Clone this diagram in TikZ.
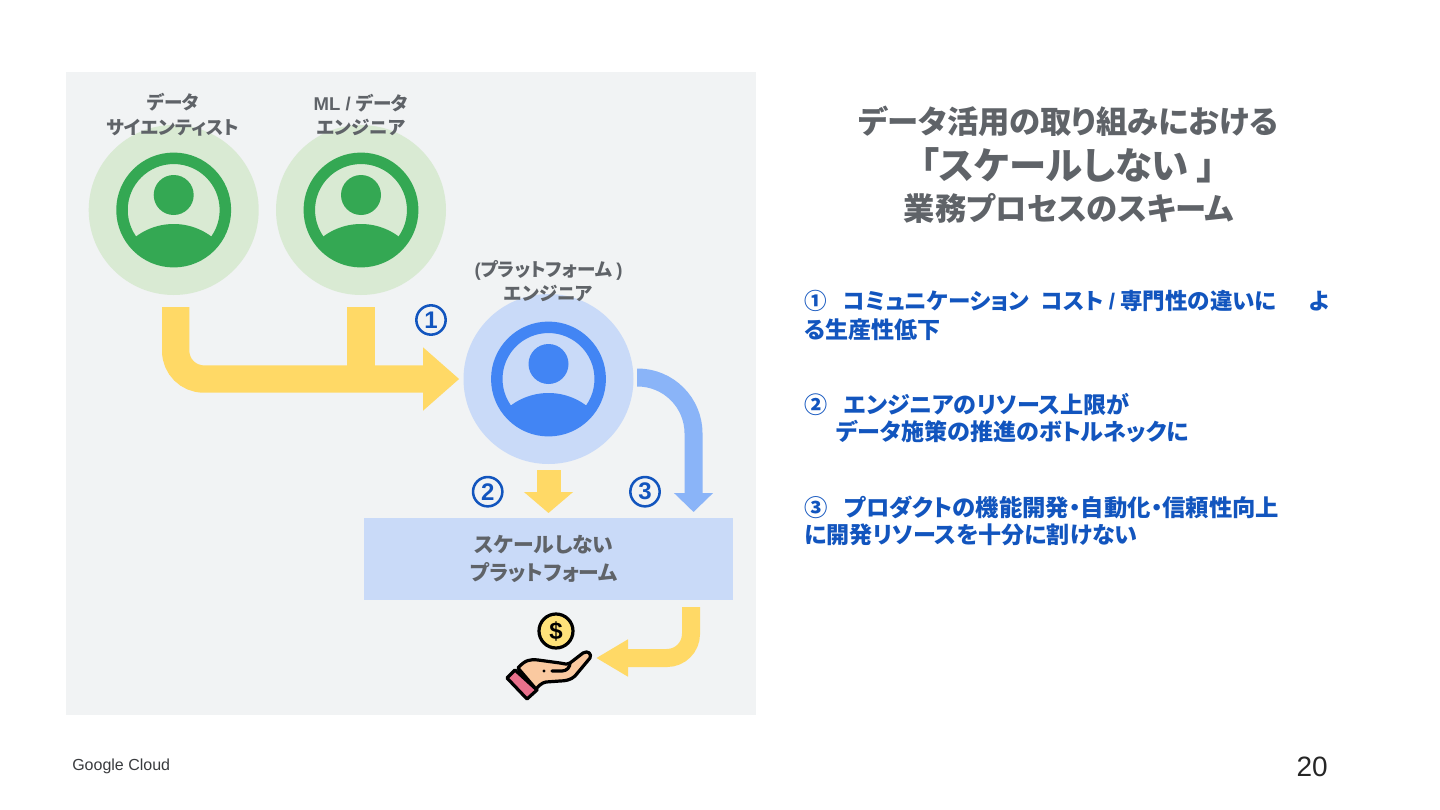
\documentclass[tikz,border=0pt]{standalone}
\usepackage{fontspec}
\setmainfont{Noto Sans CJK JP}[RawFeature={+palt}]
\newfontfamily\latfont{Liberation Sans}
\usetikzlibrary{arrows.meta,calc}

\definecolor{panelgray}{HTML}{F1F3F4}
\definecolor{textgray}{HTML}{5F6368}
\definecolor{numblue}{HTML}{1255BE}
\definecolor{paleGreen}{HTML}{D9EAD3}
\definecolor{iconGreen}{HTML}{34A853}
\definecolor{paleBlue}{HTML}{C9DAF8}
\definecolor{iconBlue}{HTML}{4285F4}
\definecolor{flowYellow}{HTML}{FFD966}
\definecolor{flowBlue}{HTML}{8AB4F8}
\definecolor{coinYellow}{HTML}{FFE27A}
\definecolor{handSkin}{HTML}{FAC9A0}
\definecolor{handSleeve}{HTML}{E8708C}

\begin{document}
\begin{tikzpicture}[
    x=0.75pt,y=-0.75pt,
    yarrow/.style={line width=20.5pt,draw=flowYellow,-{Triangle[length=27pt,width=45.5pt]}},
    role/.style={font=\bfseries\fontsize{13.9}{18.4}\selectfont,text=textgray,align=center,inner sep=0pt},
    title/.style={font=\bfseries\fontsize{23.5}{27}\selectfont,text=textgray,inner sep=0pt},
    num/.style={circle,draw=numblue,line width=1.9pt,minimum size=22pt,inner sep=0pt,
      text=numblue,font=\latfont\bfseries\fontsize{18}{18}\selectfont},
    body/.style={font=\bfseries\fontsize{17.3}{20}\selectfont,text=numblue,anchor=west,inner sep=0pt},
    handline/.style={draw=black,line width=2.4pt,line join=round,line cap=round}
  ]

  \path[use as bounding box] (0,0) rectangle (1440,810);

  % =====================================================
  % PANEL
  % =====================================================
  \fill[panelgray] (66,72) rectangle (756,715);

  % =====================================================
  % USERS
  % =====================================================
  \foreach \nm/\x/\y/\bg/\fg in {sci/173.7/210/paleGreen/iconGreen,
    eng/361/210/paleGreen/iconGreen,plat/548.5/379/paleBlue/iconBlue}{
    \node[circle,fill=\bg,minimum size=127.5pt,inner sep=0pt] (\nm) at (\x,\y) {};
    \draw[\fg,line width=8.6pt] (\x,\y) circle[radius=51.7];
    \fill[\fg] (\x,\y-15) circle[radius=20];
    \begin{scope}
      \clip (\x,\y) circle[radius=50];
      \fill[\fg] (\x,\y+77) circle[radius=63];
    \end{scope}
  }

  \node[role] (sciLabel) at (173,115) {データ\\サイエンティスト};
  \node[role] (engLabel) at (361,115) {{\latfont ML / }データ\\エンジニア};
  \node[role] (platLabel) at (548.5,281) {{\latfont (}プラットフォーム {\latfont )}\\エンジニア};

  % =====================================================
  % PLATFORM BOX
  % =====================================================
  \node[fill=paleBlue,minimum width=276.75pt,minimum height=61.5pt,inner sep=0pt,
    anchor=north west] (box) at (364,518) {};
  \node[font=\bfseries\fontsize{15.6}{20.5}\selectfont,text=textgray,align=center,inner sep=0pt]
    (boxLabel) at (544,559) {スケールしない\\プラットフォーム};

  % =====================================================
  % ARROWS
  % =====================================================
  \coordinate (sciStart) at (175.7,307);
  \coordinate (engStart) at (361,307);
  \coordinate (platStart) at (637,377.5);
  \coordinate (boxStart) at (691,607);
  \coordinate (handTip) at (596,658);

  \draw[flowYellow,line width=21pt] (engStart) -- (engStart |- plat.west);
  \draw[yarrow,rounded corners=21pt,shorten >=3pt] (sciStart) |- (plat.west);
  \draw[line width=18pt,draw=flowYellow,-{Triangle[length=15.75pt,width=36pt]},
    shorten <=4.5pt,shorten >=3.75pt] (plat.south) -- (plat.south |- box.north);
  \draw[line width=13.5pt,draw=flowBlue,-{Triangle[length=14.25pt,width=28.5pt]},
    rounded corners=42pt,shorten >=4.5pt] (platStart) -| ($(box.north east)+(-40,0)$);
  \draw[line width=13.5pt,draw=flowYellow,-{Triangle[length=24pt,width=26.25pt]},
    rounded corners=18pt] (boxStart) |- (handTip);

  \node[num] (numOne) at (431,320) {1};
  \node[num] (numTwo) at (487.7,491.7) {2};
  \node[num] (numThree) at (645,491.7) {3};

  % =====================================================
  % HAND AND COIN
  % =====================================================
  \node[circle,handline,fill=coinYellow,minimum size=25.5pt,inner sep=0pt,
    font=\latfont\bfseries\fontsize{18}{18}\selectfont] (coin) at (556,631) {\$};

  \draw[handline,fill=handSleeve] (507,678) -- (515,670) -- (537,690) -- (527,699) -- cycle;
  \draw[handline,fill=handSkin] (518,668) .. controls (525,660) and (530,659) .. (538,660)
    -- (560,663) .. controls (566,664) and (568,665) .. (570,663)
    -- (583,653) .. controls (588,650) and (592,654) .. (590,658)
    -- (575,676) .. controls (571,680) and (565,681) .. (560,681)
    -- (546,682) .. controls (541,683) and (539,686) .. (536,689) -- cycle;
  \draw[handline] (552,671) -- (562,671) .. controls (567,671) and (570,667) .. (570,663);
  \fill (544,671) circle[radius=1.6];

  % =====================================================
  % TITLE
  % =====================================================
  \node[title] (titleA) at (1068.5,121) {データ活用の取り組みにおける};
  \node[title,font=\bfseries\fontsize{28}{32}\selectfont] (titleB) at (1068,165)
    {「スケールしない\hspace{6pt}」};
  \node[title] (titleC) at (1069,208) {業務プロセスのスキーム};

  % =====================================================
  % BODY TEXT
  % =====================================================
  \node[body,font=\bfseries\fontsize{16.9}{20}\selectfont] (oneA) at (804,301)
    {①\hspace{12.5pt}コミュニケーション\hspace{9pt}コスト {\latfont /} 専門性の違いに\hspace{24pt}よ};
  \node[body] (oneB) at (804,330) {る生産性低下};
  \node[body] (twoA) at (804,404) {②\hspace{12.5pt}エンジニアのリソース上限が};
  \node[body] (twoB) at (836,432) {データ施策の推進のボトルネックに};
  \node[body,font=\bfseries\fontsize{17.5}{20}\selectfont] (threeA) at (804,507)
    {③\hspace{12.5pt}プロダクトの機能開発・自動化・信頼性向上};
  \node[body] (threeB) at (804,535) {に開発リソースを十分に割けない};

  % =====================================================
  % FOOTER
  % =====================================================
  \node[anchor=west,inner sep=0pt,text=textgray!60!black,
    font=\latfont\fontsize{12}{14}\selectfont] (footer) at (72,766.5) {Google Cloud};
  \node[anchor=east,inner sep=0pt,text=black!85,
    font=\latfont\fontsize{21}{24}\selectfont] (pageNo) at (1328,767) {20};

\end{tikzpicture}
\end{document}
